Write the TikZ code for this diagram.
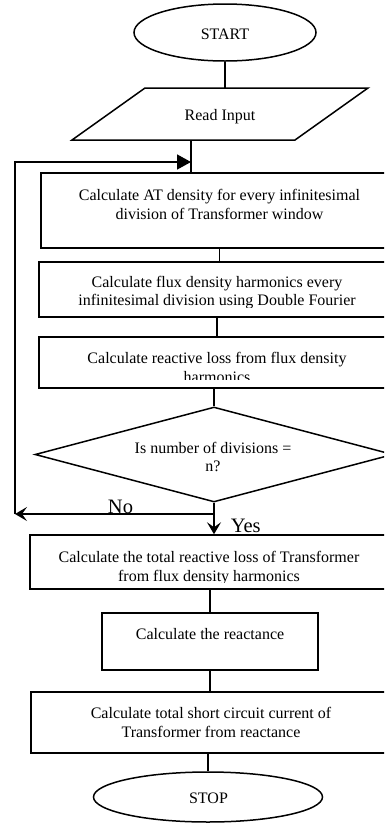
\documentclass[tikz,border=0pt]{standalone}
\usepackage{fontspec}
\setmainfont{Liberation Serif}
\usetikzlibrary{shapes.geometric,arrows.meta}
\tikzset{
  txt/.style={anchor=base,inner sep=0pt,font=\fontsize{16}{19}\selectfont},
  lbl/.style={anchor=base,inner sep=0pt,font=\fontsize{20.5}{24}\selectfont},
  box/.style={draw,rectangle,inner sep=0pt},
  term/.style={draw,ellipse,inner sep=0pt},
  dec/.style={draw,diamond,inner sep=0pt},
  arr/.style={-{Stealth[length=12pt,width=14pt,inset=5pt]}},
  farr/.style={-{Triangle[length=14pt,width=15pt]}}
}
\begin{document}
\begin{tikzpicture}[x=1pt,y=-1pt,line width=1.5pt]
\useasboundingbox (0,0) rectangle (384,823);
\begin{scope}
\clip (0,0) rectangle (384,823);
% shapes
\node[term,minimum width=182pt,minimum height=57pt] (start) at (225,32.5) {};
\draw (72,140) -- (145,88) -- (368,88) -- (295,140) -- cycle;
\coordinate (rtop) at (225,88);
\coordinate (rbot) at (191,140);
\node[box,minimum width=357pt,minimum height=75pt] (b1) at (219.5,210.5) {};
\node[box,minimum width=356pt,minimum height=55pt] (b2) at (217,289.5) {};
\node[box,minimum width=356pt,minimum height=51pt] (b3) at (217,362.5) {};
\node[dec,minimum width=358pt,minimum height=95pt] (d) at (214,454.5) {};
\node[box,minimum width=358pt,minimum height=54pt] (b4) at (209,562) {};
\node[box,minimum width=216pt,minimum height=57pt] (b5) at (210,641.5) {};
\node[box,minimum width=360pt,minimum height=61pt] (b6) at (211,722.5) {};
\node[term,minimum width=229pt,minimum height=50pt] (stop) at (208,797) {};
\coordinate (loopin) at (191,162);
\coordinate (noend) at (15,514);
% texts
\node[txt] (tstart) at (225,39) {START};
\node[txt] (tread) at (220,120.5) {Read Input};
\node[txt] (t1a) at (219.5,200.5) {Calculate AT density for every infinitesimal};
\node[txt] (t1b) at (219.5,219.5) {division of Transformer window};
\node[txt] (t2a) at (217,287) {Calculate flux density harmonics every};
\begin{scope}
\clip (39,262) rectangle (395,307.5);
\node[txt] (t2b) at (217,305.5) {infinitesimal division using Double Fourier};
\end{scope}
\node[txt] (t3a) at (217,363) {Calculate reactive loss from flux density};
\begin{scope}
\clip (39,337) rectangle (395,379.5);
\node[txt] (t3b) at (217,382.5) {harmonics};
\end{scope}
\node[txt] (tda) at (213,453.5) {Is number of divisions =};
\node[txt] (tdb) at (213,471) {n?};
\node[lbl] (tno) at (120.5,513.5) {No};
\node[lbl,anchor=base west] (tyes) at (230,532) {Yes};
\node[txt] (t4a) at (209,562) {Calculate the total reactive loss of Transformer};
\begin{scope}
\clip (30,535) rectangle (388,582);
\node[txt] (t4b) at (209,581) {from flux density harmonics};
\end{scope}
\node[txt] (t5) at (210,639) {Calculate the reactance};
\node[txt] (t6a) at (211,718) {Calculate total short circuit current of};
\node[txt] (t6b) at (211,737) {Transformer from reactance};
\node[txt] (tstop) at (208.5,803) {STOP};
% connectors
\draw (start.south) -- (rtop);
\draw (rbot) -- (rbot |- b1.north);
\draw (b1.south) -- (b1.south |- b2.north);
\draw (b2.south) -- (b3.north);
\draw (d.north |- b3.south) -- (d.north);
\draw[arr] (d.south) -- (d.south |- b4.north);
\draw[arr] (d.south) |- (noend);
\draw[farr] (noend) |- (loopin);
\draw (b5.north |- b4.south) -- (b5.north);
\draw (b5.south) -- (b5.south |- b6.north);
\draw (stop.north |- b6.south) -- (stop.north);
\end{scope}
\end{tikzpicture}
\end{document}
